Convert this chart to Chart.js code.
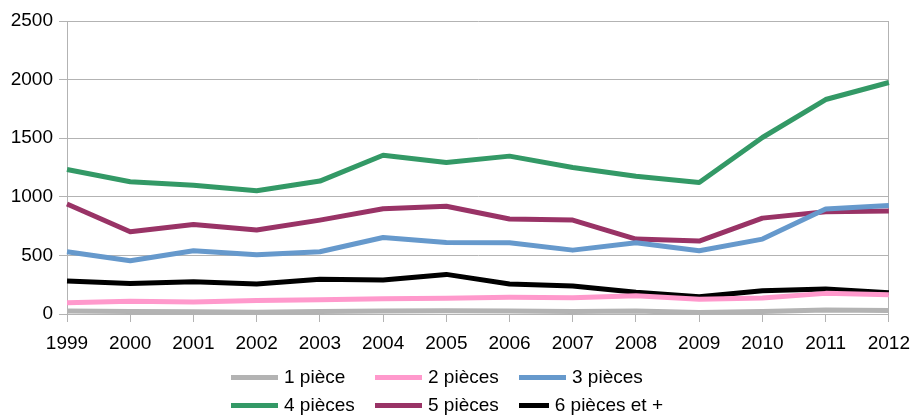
<!DOCTYPE html>
<html>
<head>
<meta charset="utf-8">
<script src="https://cdn.jsdelivr.net/npm/chart.js@4/dist/chart.umd.min.js"></script>
<style>
  html, body { margin: 0; padding: 0; background: #fff; }
  #wrap { position: relative; width: 920px; height: 417px; overflow: hidden; }
  #chart { position: absolute; left: 0; top: 0; }
  #legend { position: absolute; left: 231px; top: 363px; font-family: "Liberation Sans", Arial, sans-serif; font-size: 19px; color: #000; }
  .legend-row { height: 28px; display: flex; align-items: center; }
  .legend-item { width: 144px; display: flex; align-items: center; white-space: nowrap; }
  .legend-line { width: 47px; height: 5px; margin-right: 6px; }
</style>
</head>
<body>
<div id="wrap">
  <canvas id="chart" width="920" height="417"></canvas>
  <div id="legend"></div>
</div>
<script>
// colours (LibreOffice style palette)
const gridGray = "#b3b3b3";

// data
const years = ["1999","2000","2001","2002","2003","2004","2005","2006","2007","2008","2009","2010","2011","2012"];
const seriesNames = ["1 pièce","2 pièces","3 pièces","4 pièces","5 pièces","6 pièces et +"];
const seriesColors = ["#b3b3b3","#ff99cc","#6699cc","#339966","#993366","#000000"];

const onePiece   = [25, 22, 20, 15, 22, 25, 28, 25, 22, 25, 12, 22, 35, 30];
const twoPieces  = [96, 108, 102, 116, 122, 131, 134, 142, 139, 156, 125, 136, 176, 165];
const threePieces= [531, 455, 540, 506, 531, 653, 611, 608, 545, 608, 540, 639, 895, 926];
const fourPieces = [1233, 1128, 1099, 1051, 1134, 1355, 1293, 1347, 1250, 1176, 1122, 1506, 1830, 1975];
const fivePieces = [938, 702, 764, 716, 801, 898, 920, 810, 801, 639, 622, 818, 872, 878];
const sixPlus    = [281, 261, 275, 256, 296, 290, 338, 256, 239, 185, 148, 199, 213, 182];

const yTicks = [0, 500, 1000, 1500, 2000, 2500];

const allSeries = [onePiece, twoPieces, threePieces, fourPieces, fivePieces, sixPlus];

var datasets = [];
for (var i = 0; i < allSeries.length; i++) {
    datasets.push({
        label: seriesNames[i],
        data: allSeries[i],
        borderColor: seriesColors[i],
        backgroundColor: seriesColors[i],
        borderWidth: 5,
        pointRadius: 0,
        tension: 0,
        borderJoinStyle: "round",
        fill: false
    });
}

Chart.defaults.font.family = '"Liberation Sans", Arial, sans-serif';
Chart.defaults.font.size = 19;
Chart.defaults.color = "#000";

var myChart = new Chart(document.getElementById("chart"), {
    type: "line",
    data: { labels: years, datasets: datasets },
    options: {
        responsive: false,
        animation: false,
        layout: { padding: { top: 21, right: 25, bottom: 0, left: 0 } },
        plugins: {
            legend: { display: false },
            tooltip: { enabled: false }
        },
        scales: {
            x: {
                offset: false,
                afterFit: function (scale) { scale.height = 103; },
                grid: {
                    color: function (ctx) { return ctx.index === years.length - 1 ? gridGray : "transparent"; },
                    tickColor: gridGray,
                    tickLength: 8,
                    lineWidth: 1
                },
                border: { color: gridGray, width: 1 },
                ticks: { padding: 10, maxRotation: 0, autoSkip: false }
            },
            y: {
                min: 0,
                max: 2500,
                afterFit: function (scale) { scale.width = 67; },
                afterBuildTicks: function (scale) { scale.ticks = yTicks.map(function (v) { return { value: v }; }); },
                grid: { color: gridGray, tickColor: gridGray, tickLength: 8, lineWidth: 1 },
                border: { color: gridGray, width: 1 },
                ticks: {
                    padding: 6,
                    callback: function (value) { return String(value); }
                }
            }
        }
    }
});

// legend in 3 columns, built from the datasets
var legendEl = document.getElementById("legend");
for (var r = 0; r < 2; r++) {
    var row = document.createElement("div");
    row.className = "legend-row";
    for (var c = 0; c < 3; c++) {
        var ds = myChart.data.datasets[r * 3 + c];
        var item = document.createElement("div");
        item.className = "legend-item";
        var line = document.createElement("span");
        line.className = "legend-line";
        line.style.background = ds.borderColor;
        var txt = document.createElement("span");
        txt.textContent = ds.label;
        item.appendChild(line);
        item.appendChild(txt);
        row.appendChild(item);
    }
    legendEl.appendChild(row);
}
</script>
</body>
</html>
